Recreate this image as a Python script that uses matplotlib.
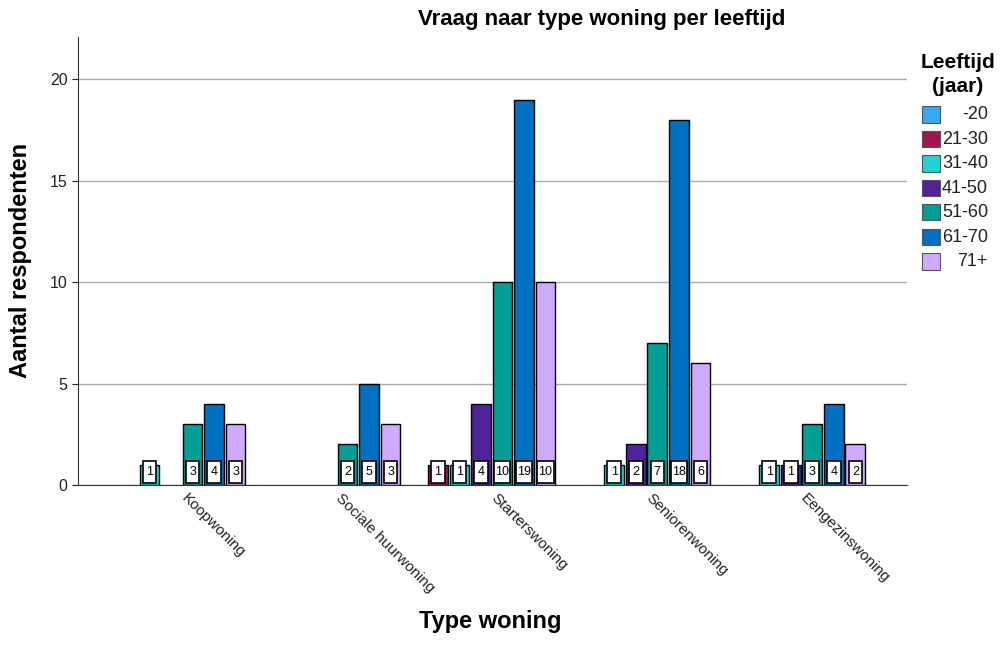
import matplotlib
matplotlib.use("Agg")
import matplotlib.pyplot as plt
from matplotlib.patches import Rectangle
import numpy as np

# Data
types = ["Koopwoning", "Sociale huurwoning", "Starterswoning", "Seniorenwoning", "Eengezinswoning"]
ages = ["-20", "21-30", "31-40", "41-50", "51-60", "61-70", "71+"]
colors = ["#37A9F5", "#A0174F", "#23D3CF", "#4F2399", "#009E94", "#0070C0", "#CFAAFF"]

# counts per age group, one value per woningtype
cnt_20 = [0, 0, 0, 0, 0]
cnt_21_30 = [0, 0, 1, 0, 0]
cnt_31_40 = [1, 0, 1, 1, 1]
cnt_41_50 = [0, 0, 4, 2, 1]
cnt_51_60 = [3, 2, 10, 7, 3]
cnt_61_70 = [4, 5, 19, 18, 4]
cnt_71 = [3, 3, 10, 6, 2]
counts = [cnt_20, cnt_21_30, cnt_31_40, cnt_41_50, cnt_51_60, cnt_61_70, cnt_71]

plt.rc('font', family=['Liberation Sans', 'DejaVu Sans'])

fig = plt.figure(figsize=(10.01, 6.47), dpi=100)
ax = fig.add_axes([0.078, 0.2504, 0.828, 0.6926])

slot = 0.139
barw = 0.127
x = np.arange(len(types))

for i, (age, col) in enumerate(zip(ages, colors)):
    offs = (i - 3) * slot
    vals = np.array(counts[i])
    mask = vals > 0
    ax.bar(x[mask] + offs, vals[mask], width=barw, color=col,
           edgecolor='black', linewidth=1.0, zorder=3)
    for xi, v in zip(x[mask] + offs, vals[mask]):
        w = 0.088 if v < 10 else 0.104
        ax.add_patch(Rectangle((xi - w / 2, 0.08), w, 1.1, facecolor='white',
                               edgecolor='black', linewidth=1.2, zorder=4))
        ax.text(xi, 0.62, str(v), ha='center', va='center', fontsize=9,
                color='black', zorder=5)

ax.set_xlim(-0.6, 4.75)
ax.set_ylim(0, 22.1)
ax.set_yticks([0, 5, 10, 15, 20])
ax.tick_params(axis='y', labelsize=11.5, length=4, colors='#222222')
ax.yaxis.grid(True, color='#AAAAAA', linewidth=1.0, zorder=0)
ax.set_axisbelow(True)

ax.set_xticks(x)
ax.set_xticklabels([])
ax.tick_params(axis='x', length=0)
for xi, t in zip(x, types):
    ax.text(xi + 0.08, -0.55, t, rotation=-45, rotation_mode='anchor',
            ha='left', va='center', fontsize=11, color='#222222',
            transform=ax.transData, clip_on=False)

for s in ['top', 'right']:
    ax.spines[s].set_visible(False)
ax.spines['left'].set_color('#333333')
ax.spines['bottom'].set_color('#333333')

ax.set_ylabel("Aantal respondenten", fontsize=17, fontweight='bold', labelpad=13)
fig.text(0.49, 0.022, "Type woning", fontsize=17, fontweight='bold', ha='center', va='bottom')
fig.text(0.6015, 1 - 20 / 647, "Vraag naar type woning per leeftijd", fontsize=16,
         fontweight='bold', ha='center', va='center')

# legend drawn by hand
fig.text(958 / 1001, 1 - 63 / 647, "Leeftijd", fontsize=15, fontweight='bold',
         ha='center', va='center')
fig.text(958 / 1001, 1 - 87 / 647, "(jaar)", fontsize=15, fontweight='bold',
         ha='center', va='center')
for i, (age, col) in enumerate(zip(ages, colors)):
    yc = 1 - (114.5 + i * 24.5) / 647
    fig.patches.append(Rectangle((922 / 1001, yc - 8 / 647), 18 / 1001, 16 / 647,
                                 facecolor=col, edgecolor='#555555', linewidth=0.8,
                                 transform=fig.transFigure, figure=fig))
    fig.text(988 / 1001, yc, age, fontsize=13, ha='right', va='center', color='#222222')

fig.savefig("out.png", dpi=100)
